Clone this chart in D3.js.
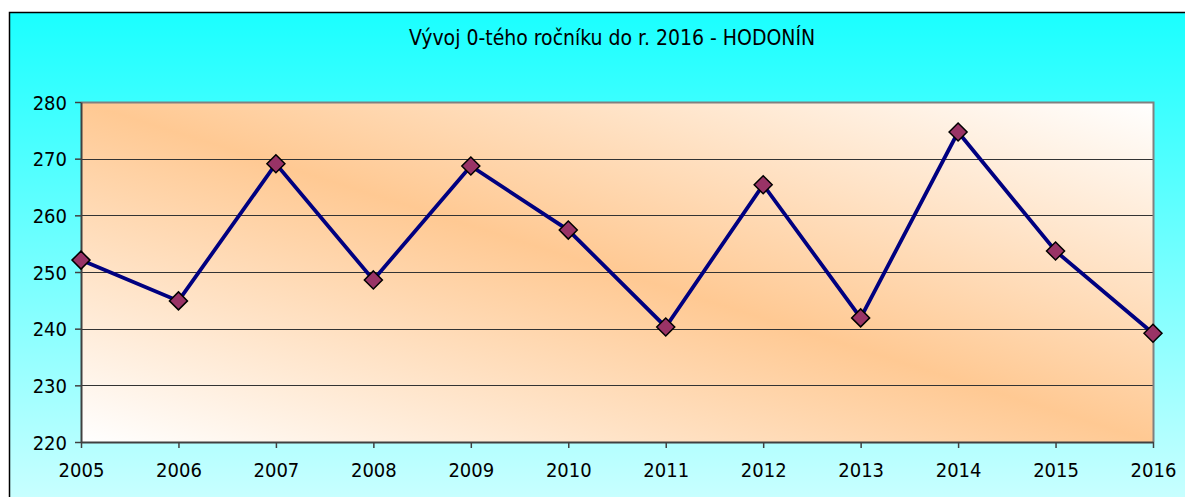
<!DOCTYPE html>
<html><head><meta charset="utf-8">
<script src="https://cdn.jsdelivr.net/npm/d3@7/dist/d3.min.js"></script>
<style>
html,body{margin:0;padding:0;background:#fff;}
svg{display:block;}
text{font-family:"DejaVu Sans Condensed","DejaVu Sans",sans-serif;fill:#000;}
</style></head>
<body>
<script>
const title = "Vývoj 0-tého ročníku do r. 2016 - HODONÍN";
const years = ["2005","2006","2007","2008","2009","2010","2011","2012","2013","2014","2015","2016"];
const values = [252.1, 244.9, 269.1, 248.6, 268.7, 257.4, 240.3, 265.4, 241.9, 274.7, 253.7, 239.2];
const yTicks = [220, 230, 240, 250, 260, 270, 280];

const W = 1185, H = 497;
const M = {left: 81, right: 1153, top: 102, bottom: 442};

const svg = d3.select("body").append("svg").attr("width", W).attr("height", H);
const defs = svg.append("defs");

const bg = defs.append("linearGradient").attr("id","bg").attr("x1",0).attr("y1",0).attr("x2",0).attr("y2",1);
bg.append("stop").attr("offset","0%").attr("stop-color","#1affff");
bg.append("stop").attr("offset","100%").attr("stop-color","#ccffff");

const pg = defs.append("linearGradient").attr("id","pg").attr("x1",0).attr("y1",1).attr("x2",1).attr("y2",0);
pg.append("stop").attr("offset","0%").attr("stop-color","#ffffff");
pg.append("stop").attr("offset","50%").attr("stop-color","#ffc993");
pg.append("stop").attr("offset","100%").attr("stop-color","#ffffff");

svg.append("rect").attr("x",0).attr("y",0).attr("width",W).attr("height",H).attr("fill","#ffffff");
svg.append("rect").attr("x",9.5).attr("y",12.5).attr("width",W).attr("height",H)
  .attr("fill","url(#bg)").attr("stroke","#000").attr("stroke-width",1.5);

const x = d3.scalePoint().domain(years).range([M.left, M.right]);
const y = d3.scaleLinear().domain([220, 280]).range([M.bottom, M.top]);

svg.append("rect").attr("x",M.left).attr("y",M.top)
  .attr("width",M.right-M.left).attr("height",M.bottom-M.top).attr("fill","url(#pg)");

// gridlines
svg.append("g").selectAll("line").data(yTicks.slice(1,-1)).join("line")
  .attr("x1",M.left).attr("x2",M.right)
  .attr("y1",d=>Math.round(y(d))+0.5).attr("y2",d=>Math.round(y(d))+0.5)
  .attr("stroke","#333").attr("stroke-width",1);

// plot border top/right
svg.append("path")
  .attr("d",`M${M.left},${M.top+0.5}H${M.right+0.5}V${M.bottom}`)
  .attr("fill","none").attr("stroke","#808080").attr("stroke-width",2);

// axes
const yAxis = d3.axisLeft(y).tickValues(yTicks).tickSize(6).tickPadding(8).tickSizeOuter(0);
const gy = svg.append("g").attr("transform",`translate(${M.left},0)`).call(yAxis);
gy.select(".domain").attr("stroke","#404040").attr("stroke-width",2);
gy.selectAll(".tick line").attr("stroke","#404040").attr("stroke-width",1.5);
gy.selectAll("text").style("font-size","20px").attr("dy","0.36em");

const xAxis = d3.axisBottom(x).tickSize(6).tickPadding(15).tickSizeOuter(0);
const gx = svg.append("g").attr("transform",`translate(0,${M.bottom})`).call(xAxis);
gx.select(".domain").attr("stroke","#404040").attr("stroke-width",2);
gx.selectAll(".tick line").attr("stroke","#404040").attr("stroke-width",1.5);
gx.selectAll("text").style("font-size","20px");

// line
const line = d3.line().x((d,i)=>x(years[i])).y(d=>y(d));
svg.append("path").datum(values).attr("d",line)
  .attr("fill","none").attr("stroke","#000080").attr("stroke-width",3.8).attr("stroke-linejoin","miter");

// markers
svg.append("g").selectAll("path").data(values).join("path")
  .attr("transform",(d,i)=>`translate(${x(years[i])},${y(d)})`)
  .attr("d","M0,-9L9,0L0,9L-9,0Z")
  .attr("fill","#993366").attr("stroke","#000").attr("stroke-width",1.5);

// title
svg.append("text").attr("x",612).attr("y",45).attr("text-anchor","middle")
  .style("font-size","21px").text(title);
</script>
</body></html>
